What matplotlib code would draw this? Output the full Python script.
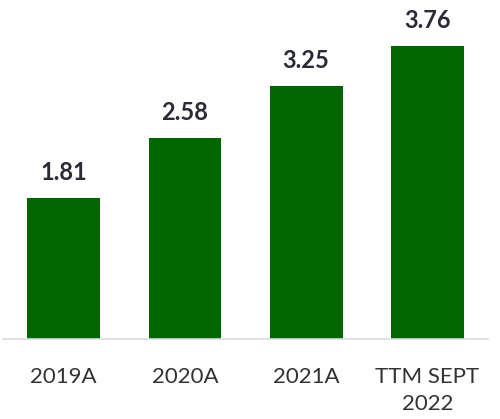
import matplotlib.pyplot as plt

categories = ['2019A', '2020A', '2021A', 'TTM SEPT\n2022']
values = [1.81, 2.58, 3.25, 3.76]

plt.rcParams['font.family'] = ['Lato', 'DejaVu Sans']

fig = plt.figure(figsize=(5, 4.19), dpi=100)
ax = fig.add_axes([0.006, 0.191, 0.97, 0.744])

bars = ax.bar(range(len(values)), values, width=0.6, color='#006600')
for b, v in zip(bars, values):
    ax.annotate(f'{v:.2f}', (b.get_x() + b.get_width() / 2, v),
                xytext=(0, 10), textcoords='offset points',
                ha='center', va='bottom', fontsize=17, fontweight='bold',
                color='#2b2b38')

ax.set_xlim(-0.5, 3.5)
ax.set_ylim(0, 4)
ax.set_xticks(range(len(categories)))
ax.set_xticklabels(categories, fontsize=16, color='#333333', linespacing=1.45)
ax.tick_params(axis='x', length=0, pad=20)
ax.set_yticks([])
for s in ['top', 'right', 'left']:
    ax.spines[s].set_visible(False)
ax.spines['bottom'].set_color('#d9dce6')
ax.spines['bottom'].set_linewidth(1.2)

fig.savefig('out.png', dpi=100)
